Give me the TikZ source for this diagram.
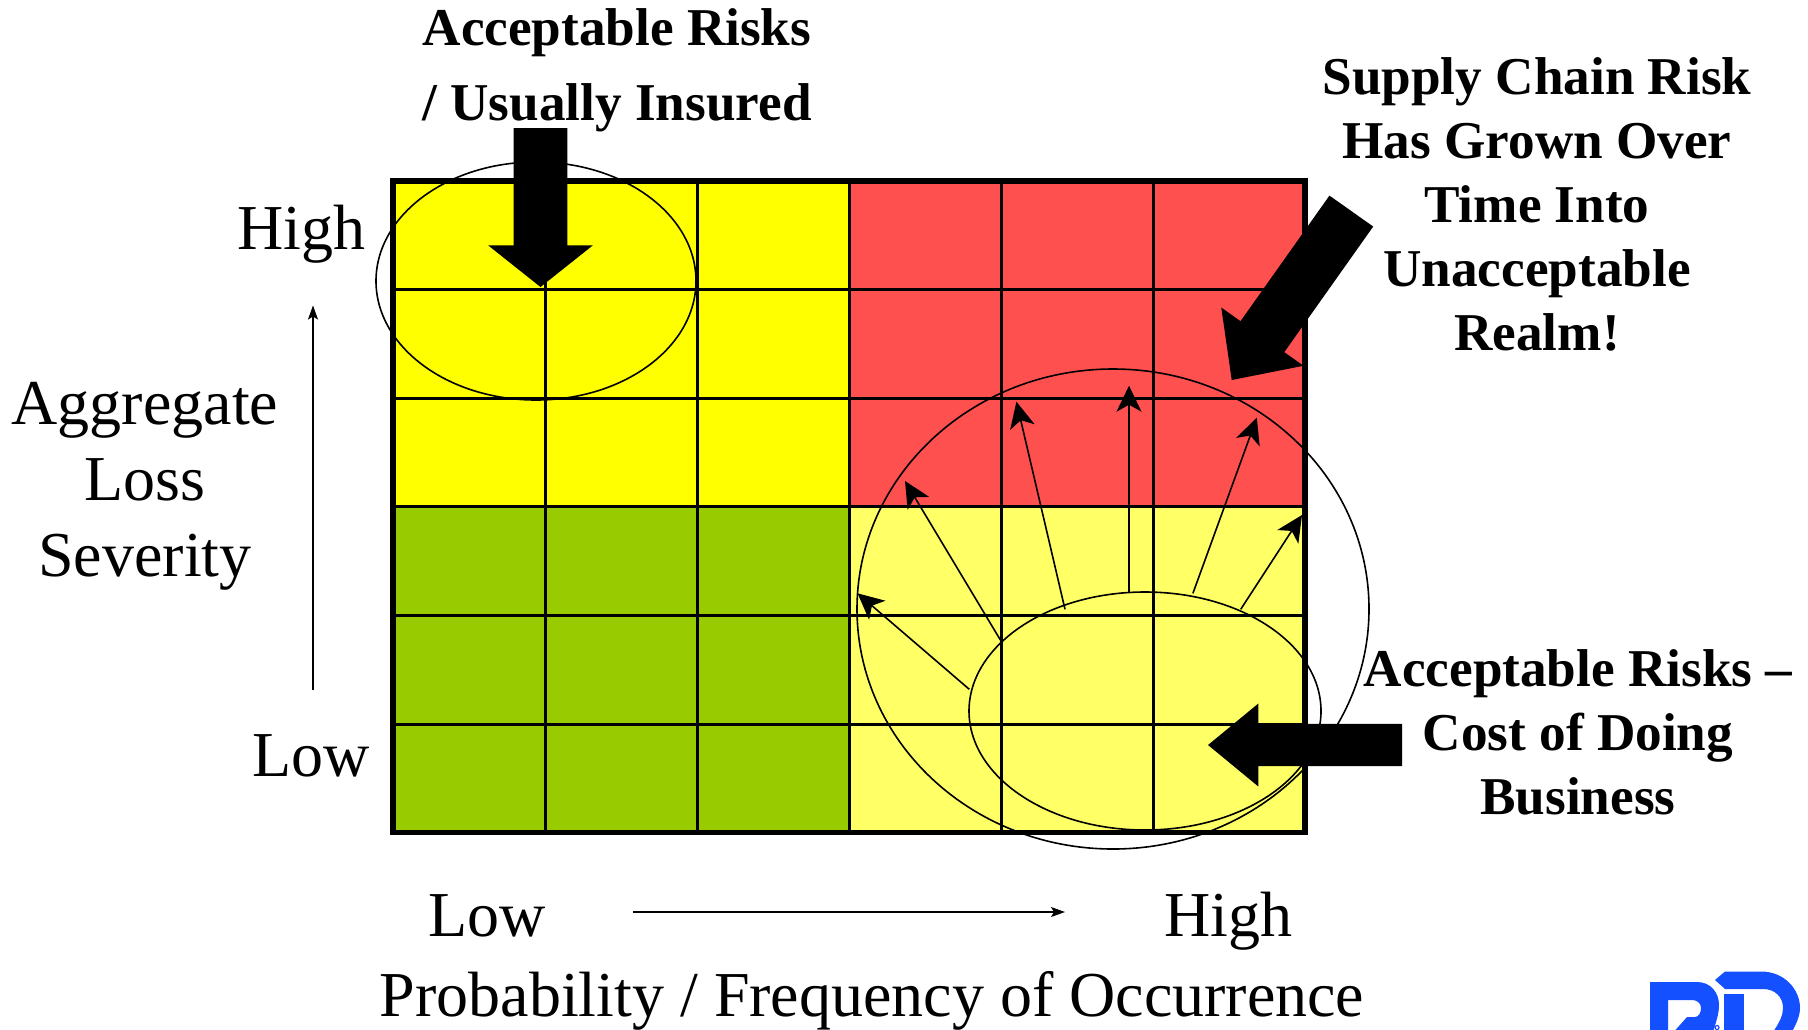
\documentclass[tikz,border=0pt]{standalone}
\usepackage{fontspec}
\setmainfont{Liberation Serif}
\usetikzlibrary{
    arrows.meta,
    shapes.geometric,
    shapes.arrows
}
\definecolor{RiskYellow}{RGB}{255,255,0}
\definecolor{RiskRed}{RGB}{255,80,80}
\definecolor{RiskGreen}{RGB}{153,204,0}
\definecolor{RiskPale}{RGB}{255,255,102}
\definecolor{LogoBlue}{RGB}{20,80,255}
\tikzset{
  axislabel/.style = {align=center, font=\fontsize{32}{38}\selectfont, inner sep=0pt},
  callout/.style   = {align=center, font=\fontsize{26.6}{32}\selectfont\bfseries, inner sep=0pt},
  blockarr/.style  = {single arrow, fill=black, inner xsep=0pt, outer sep=0pt, anchor=tip},
  zone/.style      = {draw, ellipse, line width=0.8pt, inner sep=0pt, outer sep=0pt},
  growth/.style    = {-{Stealth[length=13pt, width=12.5pt, inset=3.5pt]}, line width=0.8pt},
  axisarr/.style   = {-{Stealth[length=7pt, width=5pt, inset=1.5pt]}, line width=0.6pt},
  gridln/.style    = {line width=1.5pt},
  frameln/.style   = {line width=2.7pt}
}
\begin{document}
\begin{tikzpicture}[x=0.5pt, y=-0.5pt]
\useasboundingbox (0,0) rectangle (1808,1029);

\fill[RiskYellow] (393,181) rectangle (849,506.5);
\fill[RiskRed]    (849,181) rectangle (1305,506.5);
\fill[RiskGreen]  (393,506.5) rectangle (849,832.5);
\fill[RiskPale]   (849,506.5) rectangle (1305,832.5);

\node[zone, minimum width=160pt, minimum height=119pt] (insured) at (536,281) {};
\node[zone, minimum width=256pt, minimum height=240pt] (spread) at (1113,609) {};
\node[zone, minimum width=176pt, minimum height=119pt] (costly) at (1145,711) {};

\foreach \gx in {545,697,849,1001,1153}
  \draw[gridln] (\gx,181) -- (\gx,832.5);
\foreach \gy in {289.5,398,506.5,615,724}
  \draw[gridln] (393,\gy) -- (1305,\gy);

\coordinate (s1) at (969.3,689.3);
\coordinate (t1) at (857.5,593.3);
\coordinate (s2) at (1000.4,640);
\coordinate (t2) at (905,481);
\coordinate (s3) at (1065,609.3);
\coordinate (t3) at (1016.4,401.7);
\coordinate (s4) at (1129,592.7);
\coordinate (t4) at (1129,385.7);
\coordinate (s5) at (1192.9,593.3);
\coordinate (t5) at (1256.8,417.7);
\coordinate (s6) at (1240.7,609.3);
\coordinate (t6) at (1302,515);
\draw[growth] (s1) -- (t1);
\draw[growth] (s2) -- (t2);
\draw[growth] (s3) -- (t3);
\draw[growth] (s4) -- (t4);
\draw[growth] (s5) -- (t5);
\draw[growth] (s6) -- (t6);

\draw[frameln] (393,181) rectangle (1305,832.5);

\node[blockarr, rotate=-90, minimum height=79.5pt, inner ysep=13.25pt,
      single arrow head extend=12.7pt, single arrow tip angle=103] (insuredarr) at (540.5,287) {};
\node[blockarr, rotate=234.7, minimum height=103.5pt, inner ysep=13.2pt,
      single arrow head extend=11.8pt, single arrow tip angle=87] (supplyarr) at (1231.7,380) {};
\node[blockarr, rotate=180, minimum height=97pt, inner ysep=10.4pt,
      single arrow head extend=10.2pt, single arrow tip angle=79] (costarr) at (1208,745) {};

\node[callout] (insuredtxt) at (617,70.5) {Acceptable Risks\\[5.5pt]/ Usually Insured};
\node[callout] (supplytxt) at (1537,204) {Supply Chain Risk\\Has Grown Over\\Time Into\\Unacceptable\\Realm!};
\node[callout] (costtxt) at (1578,732) {Acceptable Risks --\\Cost of Doing\\Business};

\node[axislabel] (sevhigh) at (301,234) {High};
\node[axislabel] (sevlow) at (311,756) {Low};
\node[axislabel] (sevname) at (145,486.5) {Aggregate\\Loss\\Severity};
\node[axislabel] (problow) at (487,916) {Low};
\node[axislabel] (probhigh) at (1228,921.5) {High};
\node[axislabel] (probname) at (872,1000.5) {Probability / Frequency of Occurrence};

\coordinate (sevfrom) at (313,689.5);
\coordinate (sevto) at (313,305.5);
\coordinate (probfrom) at (633,912);
\coordinate (probto) at (1065,912);
\draw[axisarr] (sevfrom) -- (sevto);
\draw[axisarr] (probfrom) -- (probto);

\fill[LogoBlue] (1650,1035) -- (1650,982) -- (1697,982)
    .. controls (1711,982) and (1719,993) .. (1719,1005)
    .. controls (1719,1014) and (1716,1022) .. (1712,1035) -- (1671,1035) -- (1687,1017) -- (1695,1017)
    .. controls (1699,1017) and (1701,1012) .. (1701,1008)
    .. controls (1701,1003) and (1697,1000) .. (1692,1000) -- (1668,1000) -- (1668,1035) -- cycle;
\fill[LogoBlue] (1724,994) rectangle (1744,1035);
\fill[LogoBlue] (1715,980) -- (1725,971.5) -- (1761,971.5)
    .. controls (1785,971.5) and (1800,990) .. (1800,1008)
    .. controls (1800,1016) and (1796,1025) .. (1790,1035) -- (1771,1035)
    .. controls (1780,1022) and (1783,1015) .. (1783,1008)
    .. controls (1783,997) and (1775,989) .. (1763,989) -- (1725,989) -- cycle;
\draw[LogoBlue, line width=0.6pt] (1717,1027.5) circle (2);
\end{tikzpicture}
\end{document}
